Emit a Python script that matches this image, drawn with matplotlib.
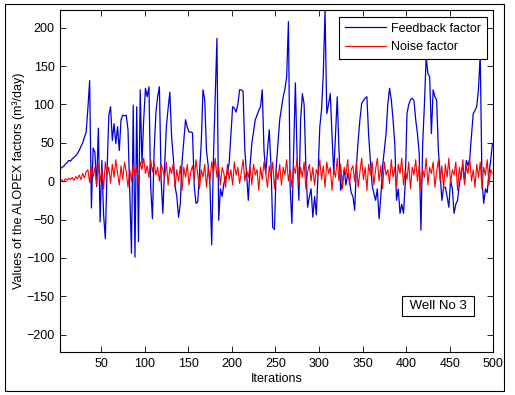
import numpy as np
import matplotlib
matplotlib.use("Agg")
import matplotlib.pyplot as plt
from matplotlib.patches import Rectangle

plt.rcParams['font.family'] = ['Liberation Sans', 'DejaVu Sans']

# === Data (every 2nd iteration) ===
iterations = np.arange(3, 500, 2)

feedback = [
    15, 18, 19, 22, 24, 27, 26, 29, 31, 33,
    36, 40, 45, 50, 57, 64, 95, 131, -35, 43,
    38, -7, 69, -53, 27, -44, -75, 14, 86, 97,
    53, 75, 49, 71, 40, 80, 86, 85, 86, 67,
    -16, -94, 99, -99, 97, -79, 119, 23, 80, 121,
    110, 123, -7, -49, 40, 89, 110, 123, 1, -42,
    20, 71, 95, 116, 58, 30, -7, -20, -47, -29,
    25, 53, 80, 70, 64, 64, 63, -7, -29, -27,
    10, 49, 119, 106, 40, 20, -5, -83, 30, 110,
    186, -51, -10, -20, -3, 5, 10, 23, 60, 97,
    95, 90, 100, 119, 119, 117, 40, 10, -25, 20,
    49, 65, 80, 86, 92, 97, 119, 40, 10, 40,
    67, 20, -60, -63, 18, 50, 80, 95, 110, 120,
    136, 208, -8, -55, 40, 128, 30, -25, 80, 114,
    100, 20, -34, -20, -10, -47, -20, -44, 10, 71,
    93, 140, 223, 88, 100, 114, 60, 10, 60, 110,
    40, -12, 0, 15, -5, 10, 1, -15, -20, -38,
    20, 53, 80, 101, 105, 108, 110, 60, 27, -5,
    -16, -25, -10, -49, -20, 19, 40, 62, 100, 121,
    106, 80, 49, -25, -10, -42, -30, -42, -3, 88,
    100, 106, 108, 105, 80, 62, 36, -64, 49, 100,
    162, 140, 136, 62, 119, 110, 106, 40, 10, -25,
    -8, -8, -20, -34, 1, -10, -42, -30, -25, -5,
    10, 20, 0, 27, 20, 30, 60, 88, 92, 97,
    120, 165, 1, -29, -10, -15, 10, 27, 49,
]

noise = [
    0, 2, -1, 3, 1, 4, 2, 5, 1, 6,
    3, 8, 2, 10, 4, 12, 15, -2, 20, 5,
    18, -5, 22, 0, 15, -10, 25, 8, 18, -3,
    22, 5, 28, 10, -5, 20, 2, 25, 12, -8,
    15, 0, 22, 8, 18, -2, 25, 15, 30, 10,
    20, 5, 28, 12, 24, 8, 18, 0, 22, 15,
    5, 25, -5, 18, 10, 24, -8, 15, 0, 20,
    -12, 18, 5, 22, -5, 12, 20, 2, 28, 8,
    -10, 15, 5, 22, -8, 18, 0, 25, 10, 30,
    5, 20, -5, 18, 10, -8, 22, 2, 15, -5,
    25, 8, 18, -3, 12, 28, 0, 15, 5, 20,
    -5, 22, 8, 15, -12, 18, 2, 25, 10, -8,
    20, 5, 25, -10, 15, 2, 22, -5, 18, 8,
    28, 0, 15, -8, 20, 10, 30, -5, 18, 5,
    25, -10, 12, 22, 0, 18, -5, 15, 8, 28,
    2, 20, -8, 25, 10, 18, -12, 15, 5, 30,
    0, 22, -10, 18, 8, 28, -5, 15, 20, 0,
    25, -8, 12, 30, 2, 18, -12, 22, 8, 25,
    -5, 15, 30, 0, 20, -10, 25, 8, 15, -3,
    28, 5, 18, -8, 22, 10, 30, -5, 15, 2,
    25, -10, 18, 8, 28, 0, 20, -12, 15, 5,
    30, -5, 18, 10, 25, -8, 12, 28, 0, 20,
    -10, 22, 5, 30, -3, 15, 8, 25, -12, 18,
    2, 28, -5, 20, 10, 30, 0, 15, -8, 22,
    5, 25, -10, 18, 8, 28, -5, 15, 10,
]

x_ticks = list(range(50, 501, 50))
y_ticks = list(range(-200, 201, 50))

# === Plot ===
fig = plt.figure(figsize=(5.15, 3.95), dpi=100)
ax = fig.add_axes([60 / 515, 1 - 352.3 / 395, 433.3 / 515, 342.3 / 395])

ax.plot(iterations, feedback, color=(0, 0, 0.85), lw=0.9, label="Feedback factor")
ax.plot(iterations, noise, color=(1, 0, 0), lw=0.8, label="Noise factor")

ax.set_xlim(3, 500)
ax.set_ylim(-223, 223)
ax.set_xticks(x_ticks)
ax.set_yticks(y_ticks)
ax.tick_params(direction="in", top=True, right=True, length=4, width=0.6,
               labelsize=9, pad=4)
for s in ax.spines.values():
    s.set_linewidth(0.8)

ax.set_xlabel("Iterations", fontsize=9, labelpad=2)
ax.set_ylabel("Values of the ALOPEX factors (m³/day)", fontsize=9, labelpad=1)

leg = ax.legend(loc="upper right", bbox_to_anchor=(0.985, 0.981), fontsize=9,
                fancybox=False, edgecolor="black", framealpha=1,
                handlelength=3.3, borderpad=0.5, labelspacing=0.5,
                handletextpad=0.35, borderaxespad=0)
leg.get_frame().set_linewidth(0.8)

ax.text(0.872, 0.134, " Well No 3 ", transform=ax.transAxes, fontsize=9.5,
        ha="center", va="center",
        bbox=dict(boxstyle="square,pad=0.3", fc="white", ec="black", lw=0.8))

# outer figure frame
fig.patches.append(Rectangle((5 / 515, 1 - 391 / 395), 499 / 515, 387 / 395,
                             transform=fig.transFigure, fill=False,
                             edgecolor="black", lw=0.8))

fig.savefig("out.png", dpi=100)
